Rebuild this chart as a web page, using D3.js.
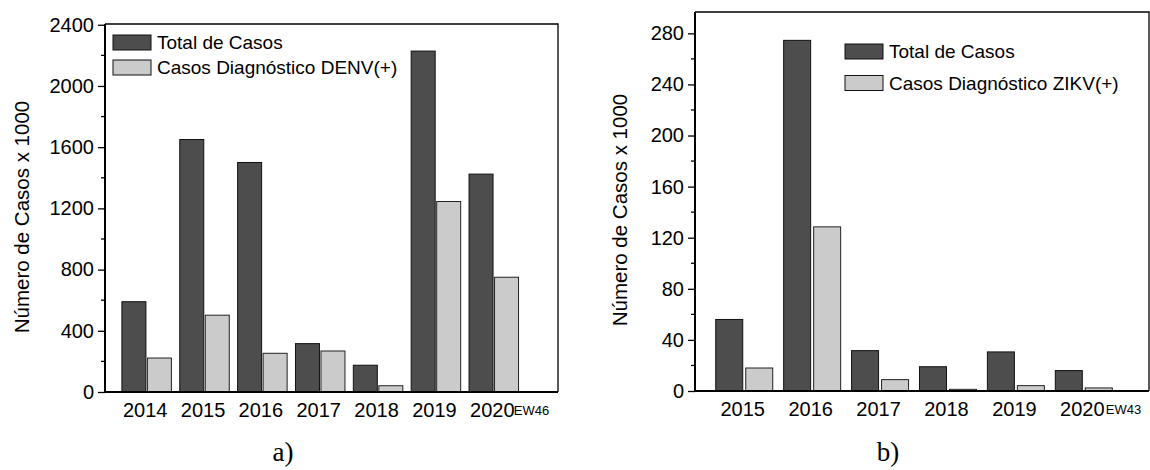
<!DOCTYPE html>
<html><head><meta charset="utf-8">
<script src="https://cdn.jsdelivr.net/npm/d3@7"></script>
<style>
body{margin:0;background:#fff;}
svg text{font-family:"Liberation Sans",Arial,sans-serif;fill:#000;}
</style></head>
<body><svg id="c" width="1150" height="470"></svg>
<script>
// ---- data ----
const yearsA = ["2014","2015","2016","2017","2018","2019","2020"];
const totalA = [590, 1650, 1500, 316, 175, 2228, 1424];
const diagA  = [222, 502, 253, 268, 41, 1245, 750];
const yTicksA = [0, 400, 800, 1200, 1600, 2000, 2400];
const legendA = ["Total de Casos", "Casos Diagnóstico DENV(+)"];
const suffixA = "EW46";

const yearsB = ["2015","2016","2017","2018","2019","2020"];
const totalB = [56, 274.5, 31.6, 19, 30.6, 16];
const diagB  = [18, 128.5, 8.9, 1.3, 4.2, 2.4];
const yTicksB = [0, 40, 80, 120, 160, 200, 240, 280];
const legendB = ["Total de Casos", "Casos Diagnóstico ZIKV(+)"];
const suffixB = "EW43";

const yLabel = "Número de Casos x 1000";
const DARK = "#4d4d4d", LIGHT = "#cbcbcb";

const svg = d3.select("#c");

function panel(o){
  const g = svg.append("g");
  const x = d3.scaleLinear().domain(o.xDom).range([o.L, o.R]);
  const y = d3.scaleLinear().domain(o.yDom).range([o.B, o.T]);
  const bw = o.bw, gap = o.gap;
  // bars
  o.years.forEach((yr,i)=>{
    const cx = x(i);
    g.append("rect").attr("x", cx - gap/2 - bw).attr("y", y(o.total[i]))
      .attr("width", bw).attr("height", y(0)-y(o.total[i]))
      .attr("fill", DARK).attr("stroke","#111").attr("stroke-width",1);
    g.append("rect").attr("x", cx + gap/2).attr("y", y(o.diag[i]))
      .attr("width", bw).attr("height", y(0)-y(o.diag[i]))
      .attr("fill", LIGHT).attr("stroke","#222").attr("stroke-width",1);
  });
  // frame top/right
  g.append("path").attr("d", `M${o.L},${o.T}H${o.R}V${o.B}`)
    .attr("fill","none").attr("stroke","#000").attr("stroke-width",1.3);
  // left axis
  const ax = g.append("g").attr("transform",`translate(${o.L},0)`)
    .call(d3.axisLeft(y).tickValues(o.yTicks).tickSize(7).tickPadding(4).tickFormat(d3.format("d")));
  ax.select(".domain").remove();
  ax.selectAll(".tick line").attr("stroke","#000").attr("stroke-width",1.3);
  ax.selectAll(".tick text").style("font-size","20px").attr("fill","#000");
  // minor ticks
  const step = o.yTicks[1]-o.yTicks[0];
  const minors = o.yTicks.slice(0,-1).map(v=>v+step/2).filter(v=>y(v)>o.T);
  g.selectAll(null).data(minors).enter().append("line")
    .attr("x1",o.L-4).attr("x2",o.L).attr("y1",d=>y(d)).attr("y2",d=>y(d))
    .attr("stroke","#000").attr("stroke-width",1.3);
  g.append("line").attr("x1",o.L).attr("x2",o.L).attr("y1",o.T).attr("y2",o.B+1)
    .attr("stroke","#000").attr("stroke-width",2);
  // bottom axis
  const bx = g.append("g").attr("transform",`translate(0,${o.B})`)
    .call(d3.axisBottom(x).tickValues(d3.range(o.years.length)).tickSize(0).tickPadding(11)
      .tickFormat(i=>o.years[i]));
  bx.select(".domain").remove();
  bx.selectAll(".tick text").style("font-size","20px").attr("fill","#000")
    .attr("transform","translate(-2,0)");
  g.append("line").attr("x1",o.L-1).attr("x2",o.R).attr("y1",o.B).attr("y2",o.B)
    .attr("stroke","#000").attr("stroke-width",2);
  // suffix
  const last = o.years.length-1;
  g.append("text").attr("x", x(last)+o.sufDx).attr("y", o.B+23)
    .style("font-size","13px").text(o.suffix);
  // y label
  g.append("text").attr("transform",`translate(${o.labX},${o.labY}) rotate(-90)`)
    .attr("text-anchor","middle").style("font-size","20.5px").text(yLabel);
  // legend
  o.legend.forEach((t,k)=>{
    const yy = o.legY + k*o.legStep;
    g.append("rect").attr("x",o.legX).attr("y",yy).attr("width",38).attr("height",15)
      .attr("fill", k===0?DARK:LIGHT).attr("stroke","#111").attr("stroke-width",1);
    g.append("text").attr("x",o.legX+44).attr("y",yy+14).style("font-size","19px").text(t);
  });
  // panel letter
  g.append("text").attr("x",o.letX).attr("y",461).attr("text-anchor","middle")
    .style("font-family","'Liberation Serif','DejaVu Serif',serif").style("font-size","27px")
    .text(o.letter);
}

panel({years:yearsA,total:totalA,diag:diagA,yTicks:yTicksA,legend:legendA,suffix:suffixA,
  L:105,R:558,T:24,B:392,xDom:[-0.72,7.11],yDom:[0,2405],bw:24,gap:1.5,sufDx:20,
  labX:29,labY:217,legX:113,legY:35,legStep:25,letX:283,letter:"a)"});

panel({years:yearsB,total:totalB,diag:diagB,yTicks:yTicksB,legend:legendB,suffix:suffixB,
  L:695,R:1149,T:12,B:391,xDom:[-0.725,5.96],yDom:[0,296.7],bw:27,gap:3,sufDx:22,
  labX:627,labY:210,legX:845,legY:44,legStep:31.5,letX:888,letter:"b)"});
</script></body></html>
